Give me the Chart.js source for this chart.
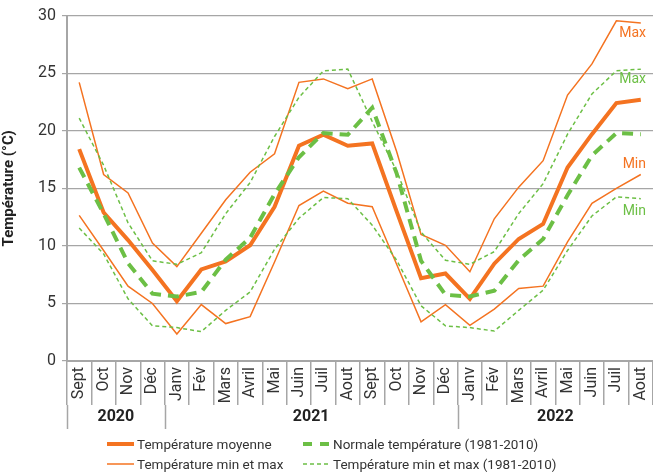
<!DOCTYPE html>
<html lang="fr">
<head>
<meta charset="utf-8">
<script src="https://cdn.jsdelivr.net/npm/chart.js@4"></script>
<style>
  html, body { margin: 0; padding: 0; background: #fff; }
  #wrap { position: relative; width: 653px; height: 473px; }
  #legend { position: absolute; left: 0; top: 434px; width: 653px; font-family: Roboto, sans-serif; font-size: 13.5px; color: #333; }
  .item { position: absolute; display: flex; align-items: center; height: 20px; }
  .item svg { margin-right: 3px; }
</style>
</head>
<body>
<div id="wrap">
  <canvas id="chart" width="653" height="473"></canvas>
  <div id="legend"></div>
</div>
<script>
// months from Sept 2020 to Aout 2022
const months = ['Sept', 'Oct', 'Nov', 'Déc', 'Janv', 'Fév', 'Mars', 'Avril', 'Mai', 'Juin', 'Juil', 'Aout',
                'Sept', 'Oct', 'Nov', 'Déc', 'Janv', 'Fév', 'Mars', 'Avril', 'Mai', 'Juin', 'Juil', 'Aout'];
const years = ['2020', '2021', '2022'];
const yearSpans = [4, 12, 8];   // number of months per year group

const tempMoyenne = [18.4, 12.9, 10.5, 7.9, 5.2, 7.95, 8.65, 10.05, 13.4, 18.7, 19.65, 18.7,
                     18.9, 13.0, 7.2, 7.6, 5.4, 8.45, 10.6, 11.9, 16.8, 19.7, 22.4, 22.7];
const tempMax = [24.2, 16.2, 14.6, 10.25, 8.2, 11.1, 14.0, 16.4, 18.0, 24.2, 24.5, 23.65,
                 24.5, 18.2, 11.0, 10.05, 7.75, 12.35, 15.1, 17.4, 23.1, 25.8, 29.55, 29.35];
const tempMin = [12.65, 9.6, 6.5, 5.0, 2.35, 4.9, 3.25, 3.85, 8.6, 13.5, 14.75, 13.7,
                 13.4, 8.4, 3.4, 4.9, 3.1, 4.5, 6.3, 6.5, 10.35, 13.7, 15.0, 16.2];
const normale = [16.8, 12.8, 8.5, 5.85, 5.6, 6.0, 8.8, 10.7, 14.5, 17.7, 19.8, 19.65,
                 22.0, 16.3, 8.7, 5.75, 5.6, 6.1, 8.75, 10.6, 14.4, 17.85, 19.8, 19.7];
const normaleMax = [21.1, 17.0, 12.0, 8.7, 8.4, 9.4, 12.8, 15.5, 19.5, 22.9, 25.2, 25.35,
                    20.8, 16.5, 11.2, 8.75, 8.4, 9.5, 12.8, 15.4, 19.7, 23.2, 25.2, 25.35];
const normaleMin = [11.55, 9.3, 5.4, 3.05, 2.9, 2.55, 4.4, 6.0, 9.7, 12.4, 14.2, 14.1,
                    11.8, 8.75, 4.8, 3.05, 2.9, 2.6, 4.4, 6.15, 9.6, 12.6, 14.25, 14.1];

const ORANGE = '#F47321';
const GREEN = '#6CBF45';
const AXIS_GREY = '#a6a6a6';
const TEXT = '#333333';

// year row under the month labels
const yearRow = {
    id: 'yearRow',
    afterDraw(chart) {
        const ctx = chart.ctx;
        const x = chart.scales.x;
        const top = chart.chartArea.bottom + 44;
        const half = (x.getPixelForValue(1) - x.getPixelForValue(0)) / 2;
        ctx.save();
        ctx.strokeStyle = AXIS_GREY;
        ctx.lineWidth = 1.5;
        ctx.fillStyle = '#222';
        ctx.font = 'bold 16px "Liberation Sans Narrow", "Roboto", sans-serif';
        ctx.textAlign = 'center';
        ctx.textBaseline = 'middle';
        let start = 0;
        years.forEach((yr, i) => {
            const end = start + yearSpans[i] - 1;
            const x0 = x.getPixelForValue(start) - half;
            const x1 = x.getPixelForValue(end) + half;
            ctx.beginPath();
            ctx.moveTo(Math.round(x0) + 0.5, top);
            ctx.lineTo(Math.round(x0) + 0.5, top + 24);
            ctx.stroke();
            ctx.fillText(yr, (x0 + x1) / 2, top + 12);
            start = end + 1;
        });
        ctx.restore();
    }
};

// Max / Min tags at the end of the lines
const endTags = {
    id: 'endTags',
    afterDatasetsDraw(chart) {
        const ctx = chart.ctx;
        const y = chart.scales.y;
        const last = months.length - 1;
        const tags = [
            { text: 'Max', value: tempMax[last], dy: 10, color: ORANGE },
            { text: 'Max', value: normaleMax[last], dy: 10, color: GREEN },
            { text: 'Min', value: tempMin[last], dy: -10, color: ORANGE },
            { text: 'Min', value: normaleMin[last], dy: 13, color: GREEN }
        ];
        ctx.save();
        ctx.font = '14px Roboto, sans-serif';
        ctx.textAlign = 'right';
        ctx.textBaseline = 'middle';
        tags.forEach(t => {
            ctx.fillStyle = t.color;
            ctx.fillText(t.text, chart.chartArea.right - 7, y.getPixelForValue(t.value) + t.dy);
        });
        ctx.restore();
    }
};

const thin = { borderWidth: 1.5, pointRadius: 0, tension: 0, fill: false };

new Chart(document.getElementById('chart'), {
    type: 'line',
    data: {
        labels: months,
        datasets: [
            { label: 'Normale min', data: normaleMin, borderColor: GREEN, borderDash: [4, 3], ...thin },
            { label: 'Normale max', data: normaleMax, borderColor: GREEN, borderDash: [4, 3], ...thin },
            { label: 'Température min', data: tempMin, borderColor: ORANGE, ...thin },
            { label: 'Température max', data: tempMax, borderColor: ORANGE, ...thin },
            { label: 'Normale température (1981-2010)', data: normale, borderColor: GREEN, borderWidth: 4,
              borderDash: [11, 7], pointRadius: 0, tension: 0, fill: false },
            { label: 'Température moyenne', data: tempMoyenne, borderColor: ORANGE, borderWidth: 4,
              pointRadius: 0, tension: 0, fill: false }
        ]
    },
    options: {
        responsive: false,
        animation: false,
        events: [],
        layout: { padding: { top: 15, right: 0, left: 0, bottom: 0 } },
        plugins: {
            legend: { display: false },
            tooltip: { enabled: false }
        },
        scales: {
            x: {
                offset: true,
                grid: {
                    offset: true,
                    drawOnChartArea: false,
                    drawTicks: true,
                    tickLength: 44,
                    color: AXIS_GREY,
                    lineWidth: 1.5
                },
                border: { color: AXIS_GREY, width: 2 },
                ticks: {
                    autoSkip: false,
                    minRotation: 90,
                    maxRotation: 90,
                    padding: -38,
                    color: TEXT,
                    font: { family: 'Roboto, sans-serif', size: 16 }
                },
                afterFit: (scale) => { scale.height = 112; }
            },
            y: {
                min: 0,
                max: 30,
                ticks: {
                    stepSize: 5,
                    color: TEXT,
                    padding: 6,
                    font: { family: 'Roboto, sans-serif', size: 16 }
                },
                grid: {
                    color: AXIS_GREY,
                    lineWidth: 1.2,
                    tickLength: 5
                },
                border: { color: AXIS_GREY, width: 2 },
                title: {
                    display: true,
                    text: 'Température (°C)',
                    color: '#222',
                    font: { family: 'Roboto, sans-serif', size: 15, weight: 'bold' },
                    padding: 0
                },
                afterFit: (scale) => { scale.width = 67; }
            }
        }
    },
    plugins: [yearRow, endTags]
});

// legend in two columns
const legendItems = [
    { text: 'Température moyenne', color: ORANGE, width: 4, dash: '', left: 107, top: 0 },
    { text: 'Normale température (1981-2010)', color: GREEN, width: 4, dash: '9 8', left: 303, top: 0 },
    { text: 'Température min et max', color: ORANGE, width: 1.5, dash: '', left: 107, top: 20 },
    { text: 'Température min et max (1981-2010)', color: GREEN, width: 1.5, dash: '4 3', left: 303, top: 20 }
];
const legend = document.getElementById('legend');
legendItems.forEach(it => {
    const div = document.createElement('div');
    div.className = 'item';
    div.style.left = it.left + 'px';
    div.style.top = it.top + 'px';
    div.innerHTML = '<svg width="27" height="8"><line x1="0" y1="4" x2="27" y2="4" stroke="' + it.color +
        '" stroke-width="' + it.width + '" stroke-dasharray="' + it.dash + '"/></svg><span>' + it.text + '</span>';
    legend.appendChild(div);
});
</script>
</body>
</html>
